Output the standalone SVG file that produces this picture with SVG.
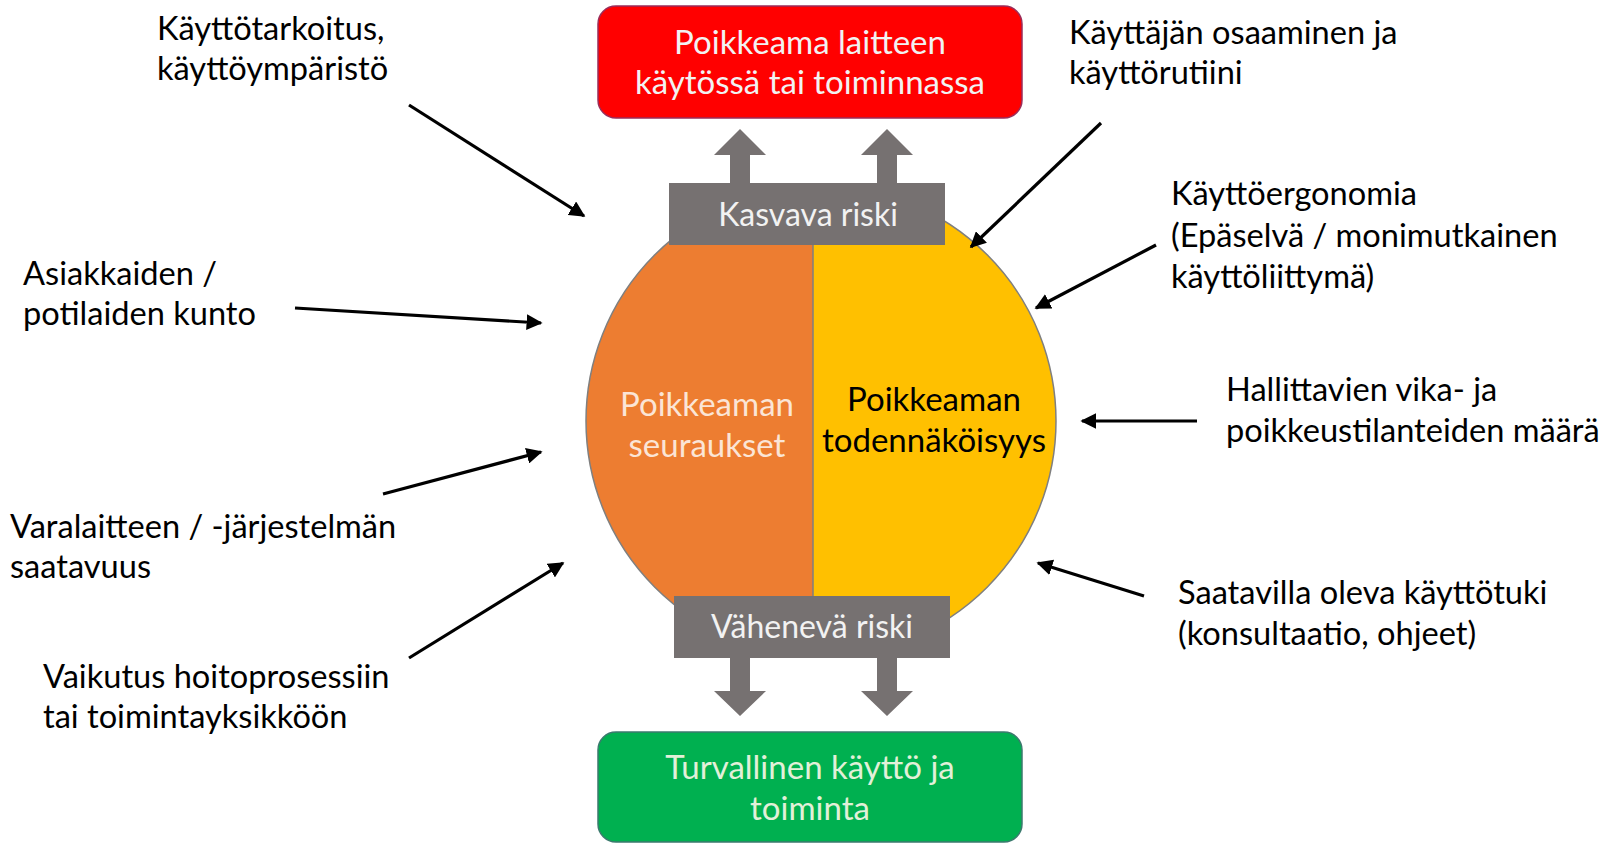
<svg xmlns="http://www.w3.org/2000/svg" width="1611" height="844" viewBox="0 0 1611 844">
<style>
text{font-family:Lato,"Noto Sans","Liberation Sans",sans-serif;font-size:32.6px}
.lbl{fill:#000}
.mid{text-anchor:middle}
.big{font-size:33px}
.barText{font-size:32px}
.light{fill:#F2F2F2}
.bar{fill:#767171}
.con{stroke:#000;stroke-width:3.2;fill:none;marker-end:url(#ah)}
</style>
<defs>
<marker id="ah" viewBox="0 0 10 10" refX="9" refY="5" markerWidth="5" markerHeight="5" orient="auto" markerUnits="strokeWidth">
<path d="M0,0 L10,5 L0,10 Z" fill="#000"/>
</marker>
<clipPath id="leftHalf"><rect x="0" y="0" width="813" height="844"/></clipPath>
<clipPath id="rightHalf"><rect x="813" y="0" width="800" height="844"/></clipPath>
</defs>
<rect width="1611" height="844" fill="#fff"/>

<g id="circle">
<circle cx="821" cy="421" r="235" fill="#FFC000" clip-path="url(#rightHalf)"/>
<circle cx="821" cy="421" r="235" fill="#ED7D31" clip-path="url(#leftHalf)"/>
<circle cx="821" cy="421" r="235" fill="none" stroke="#7F7F7F" stroke-width="1.5"/>
<line x1="813" y1="186" x2="813" y2="656" stroke="#7F7F7F" stroke-width="1.5"/>
<text class="mid big" x="707" y="416" fill="#FBE5D6">Poikkeaman</text>
<text class="mid big" x="707" y="457" fill="#FBE5D6">seuraukset</text>
<text class="mid big" x="934" y="411" fill="#000">Poikkeaman</text>
<text class="mid big" x="934" y="452" fill="#000">todennäköisyys</text>
</g>

<g id="top-box">
<rect x="598" y="6" width="424" height="112" rx="18" fill="#FF0000" stroke="#9B2D5A" stroke-width="1.5"/>
<text class="mid light big" x="810" y="54">Poikkeama laitteen</text>
<text class="mid light big" x="810" y="94">käytössä tai toiminnassa</text>
</g>

<g id="increasing-risk">
<polygon class="bar" points="740,129 766,155 750,155 750,190 730,190 730,155 714,155"/>
<polygon class="bar" points="887,129 913,155 897,155 897,190 877,190 877,155 861,155"/>
<rect class="bar" x="669" y="183" width="276" height="62"/>
<text class="mid light barText" x="808" y="226">Kasvava riski</text>
</g>

<g id="decreasing-risk">
<polygon class="bar" points="740,716 766,691 750,691 750,650 730,650 730,691 714,691"/>
<polygon class="bar" points="887,716 913,691 897,691 897,650 877,650 877,691 861,691"/>
<rect class="bar" x="674" y="596" width="276" height="62"/>
<text class="mid light barText" x="812" y="638">Vähenevä riski</text>
</g>

<g id="bottom-box">
<rect x="598" y="732" width="424" height="110" rx="18" fill="#00B050" stroke="#3B7A6E" stroke-width="1.5"/>
<text class="mid big" x="810" y="779" fill="#E2F0D9">Turvallinen käyttö ja</text>
<text class="mid big" x="810" y="820" fill="#E2F0D9">toiminta</text>
</g>

<g id="label-kayttotarkoitus">
<text class="lbl" x="157" y="40">Käyttötarkoitus,</text>
<text class="lbl" x="157" y="80">käyttöympäristö</text>
</g>
<g id="label-asiakkaiden">
<text class="lbl" x="23" y="285">Asiakkaiden /</text>
<text class="lbl" x="23" y="325">potilaiden kunto</text>
</g>
<g id="label-varalaitteen">
<text class="lbl" x="10" y="538">Varalaitteen / -järjestelmän</text>
<text class="lbl" x="10" y="578">saatavuus</text>
</g>
<g id="label-vaikutus">
<text class="lbl" x="43" y="688">Vaikutus hoitoprosessiin</text>
<text class="lbl" x="43" y="728">tai toimintayksikköön</text>
</g>
<g id="label-osaaminen">
<text class="lbl" x="1069" y="44">Käyttäjän osaaminen ja</text>
<text class="lbl" x="1069" y="84">käyttörutiini</text>
</g>
<g id="label-ergonomia">
<text class="lbl" x="1171" y="205">Käyttöergonomia</text>
<text class="lbl" x="1171" y="247">(Epäselvä / monimutkainen</text>
<text class="lbl" x="1171" y="288">käyttöliittymä)</text>
</g>
<g id="label-hallittavien">
<text class="lbl" x="1226" y="401">Hallittavien vika- ja</text>
<text class="lbl" x="1226" y="442">poikkeustilanteiden määrä</text>
</g>
<g id="label-kayttotuki">
<text class="lbl" x="1178" y="604">Saatavilla oleva käyttötuki</text>
<text class="lbl" x="1178" y="645">(konsultaatio, ohjeet)</text>
</g>

<g id="connectors">
<line class="con" x1="409" y1="105" x2="584" y2="216"/>
<line class="con" x1="295" y1="308" x2="541" y2="323"/>
<line class="con" x1="383" y1="494" x2="541" y2="452"/>
<line class="con" x1="409" y1="658" x2="563" y2="563"/>
<line class="con" x1="1101" y1="123" x2="971" y2="247"/>
<line class="con" x1="1156" y1="245" x2="1036" y2="308"/>
<line class="con" x1="1197" y1="421" x2="1082" y2="421"/>
<line class="con" x1="1144" y1="596" x2="1038" y2="563"/>
</g>
</svg>
